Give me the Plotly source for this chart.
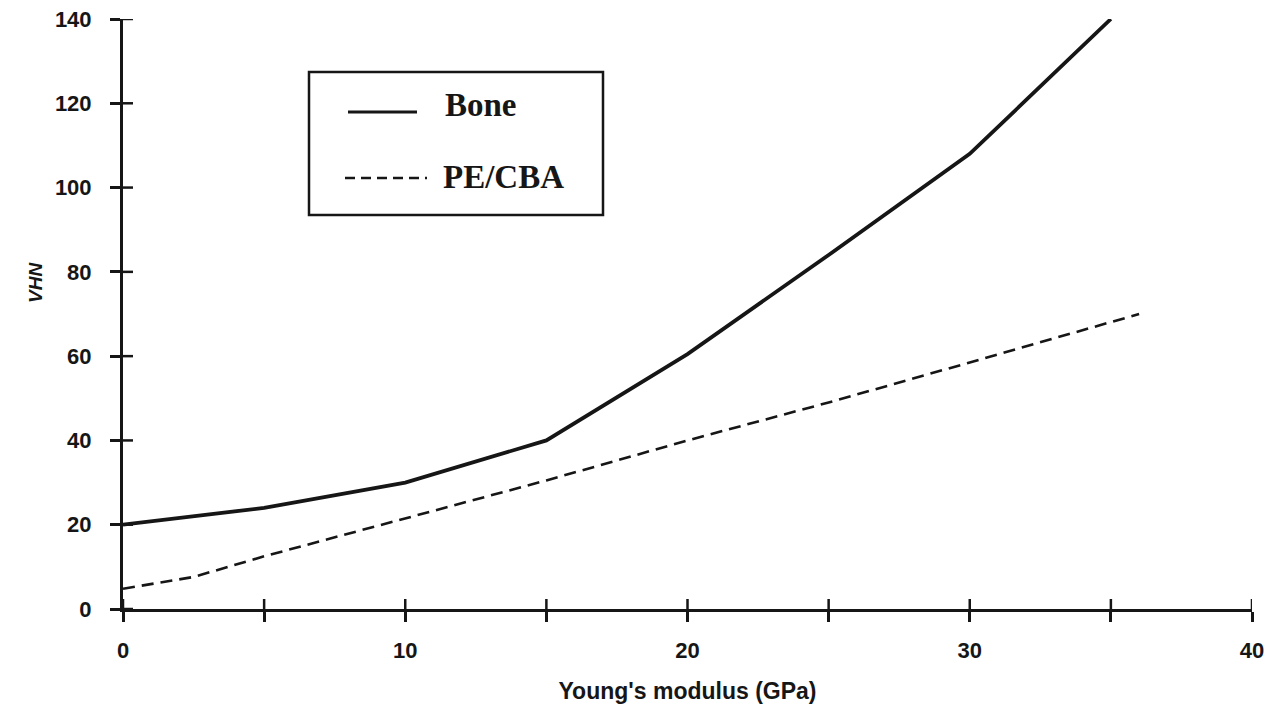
import plotly.graph_objects as go

# Young's modulus (GPa) vs Vickers hardness number
modulus_bone = [0, 5, 10, 15, 20, 25, 30, 35]
vhn_bone = [20, 24, 30, 40, 60.5, 84, 108, 140]

modulus_pe = [0, 2.5, 5, 10, 15, 20, 25, 30, 36]
vhn_pe = [4.8, 7.6, 12.5, 21.5, 30.5, 40, 49, 58.5, 70]

x_ticks = [0, 5, 10, 15, 20, 25, 30, 35, 40]
x_tick_text = ["0", "", "10", "", "20", "", "30", "", "40"]
y_ticks = [0, 20, 40, 60, 80, 100, 120, 140]
y_tick_text = ["0", "20", "40", "60", "80", "100", "120", "140"]

legend_names = ["Bone", "PE/CBA"]

W, H = 1271, 710
M_L, M_R, M_T, M_B = 123, 19, 19, 101
INK = "#161616"
TICK_LEN = 10


def px_x(px):
    return (px - M_L) / (W - M_L - M_R)


def px_y(py):
    return (H - M_B - py) / (H - M_T - M_B)


fig = go.Figure()

fig.add_trace(go.Scatter(
    x=modulus_bone, y=vhn_bone, mode="lines", name=legend_names[0],
    line=dict(color=INK, width=3.8), cliponaxis=False, showlegend=False,
))
fig.add_trace(go.Scatter(
    x=modulus_pe, y=vhn_pe, mode="lines", name=legend_names[1],
    line=dict(color=INK, width=2.6, dash="12px,7px"), cliponaxis=False,
    showlegend=False,
))

tick_font = dict(family="Liberation Sans, Arial, sans-serif", size=22,
                 color=INK, weight="bold")

fig.update_layout(
    width=W, height=H,
    margin=dict(l=M_L, r=M_R, t=M_T, b=M_B),
    paper_bgcolor="white", plot_bgcolor="white",
    xaxis=dict(
        range=[0, 40], tickvals=x_ticks, ticktext=x_tick_text,
        showgrid=False, zeroline=False, showline=True, linecolor=INK,
        linewidth=3, ticks="outside", ticklen=TICK_LEN, tickwidth=2.5,
        tickcolor=INK, tickfont=tick_font, ticklabelstandoff=10,
        automargin=False,
        title=dict(text="Young's modulus (GPa)", standoff=21,
                   font=dict(family="Liberation Sans, Arial, sans-serif",
                             size=23, color=INK, weight="bold")),
    ),
    yaxis=dict(
        range=[0, 140], tickvals=y_ticks, ticktext=y_tick_text,
        showgrid=False, zeroline=False, showline=True, linecolor=INK,
        linewidth=3, ticks="outside", ticklen=TICK_LEN, tickwidth=2.5,
        tickcolor=INK, tickfont=tick_font, ticklabelstandoff=14,
        automargin=False, title=None,
    ),
    showlegend=False,
)

# inner halves of the crossing tick marks, placed on the axis scales
for v in x_ticks:
    fig.add_shape(type="line", xref="x", yref="y", ysizemode="pixel",
                  yanchor=y_ticks[0], x0=v, x1=v, y0=0, y1=TICK_LEN,
                  line=dict(color=INK, width=2.5))
for v in y_ticks:
    fig.add_shape(type="line", xref="x", yref="y", xsizemode="pixel",
                  xanchor=x_ticks[0], y0=v, y1=v, x0=0, x1=TICK_LEN,
                  line=dict(color=INK, width=2.5))

# y-axis title
fig.add_annotation(
    text="<i>VHN</i>", xref="paper", yref="paper",
    x=px_x(35), y=px_y(283), xanchor="center", yanchor="middle",
    textangle=-90, showarrow=False,
    font=dict(family="Liberation Sans, Arial, sans-serif", size=19,
              color=INK, weight="bold"),
)

# boxed key
fig.add_shape(type="rect", xref="paper", yref="paper",
              x0=px_x(309), x1=px_x(603), y0=px_y(215), y1=px_y(72),
              line=dict(color=INK, width=2.5), fillcolor="white", layer="below")
fig.add_shape(type="line", xref="paper", yref="paper",
              x0=px_x(348), x1=px_x(417), y0=px_y(112), y1=px_y(112),
              line=dict(color=INK, width=3))
fig.add_shape(type="line", xref="paper", yref="paper",
              x0=px_x(345), x1=px_x(427), y0=px_y(178), y1=px_y(178),
              line=dict(color=INK, width=2.5, dash="10px,6px"))
key_font = dict(family="Liberation Serif, Times New Roman, serif", size=33, color=INK)
fig.add_annotation(text="<b>" + legend_names[0] + "</b>", xref="paper", yref="paper",
                   x=px_x(443), y=px_y(105), xanchor="left", yanchor="middle",
                   showarrow=False, font=key_font)
fig.add_annotation(text="<b>" + legend_names[1] + "</b>", xref="paper", yref="paper",
                   x=px_x(441), y=px_y(177), xanchor="left", yanchor="middle",
                   showarrow=False, font=key_font)

fig.write_html("out.html")
